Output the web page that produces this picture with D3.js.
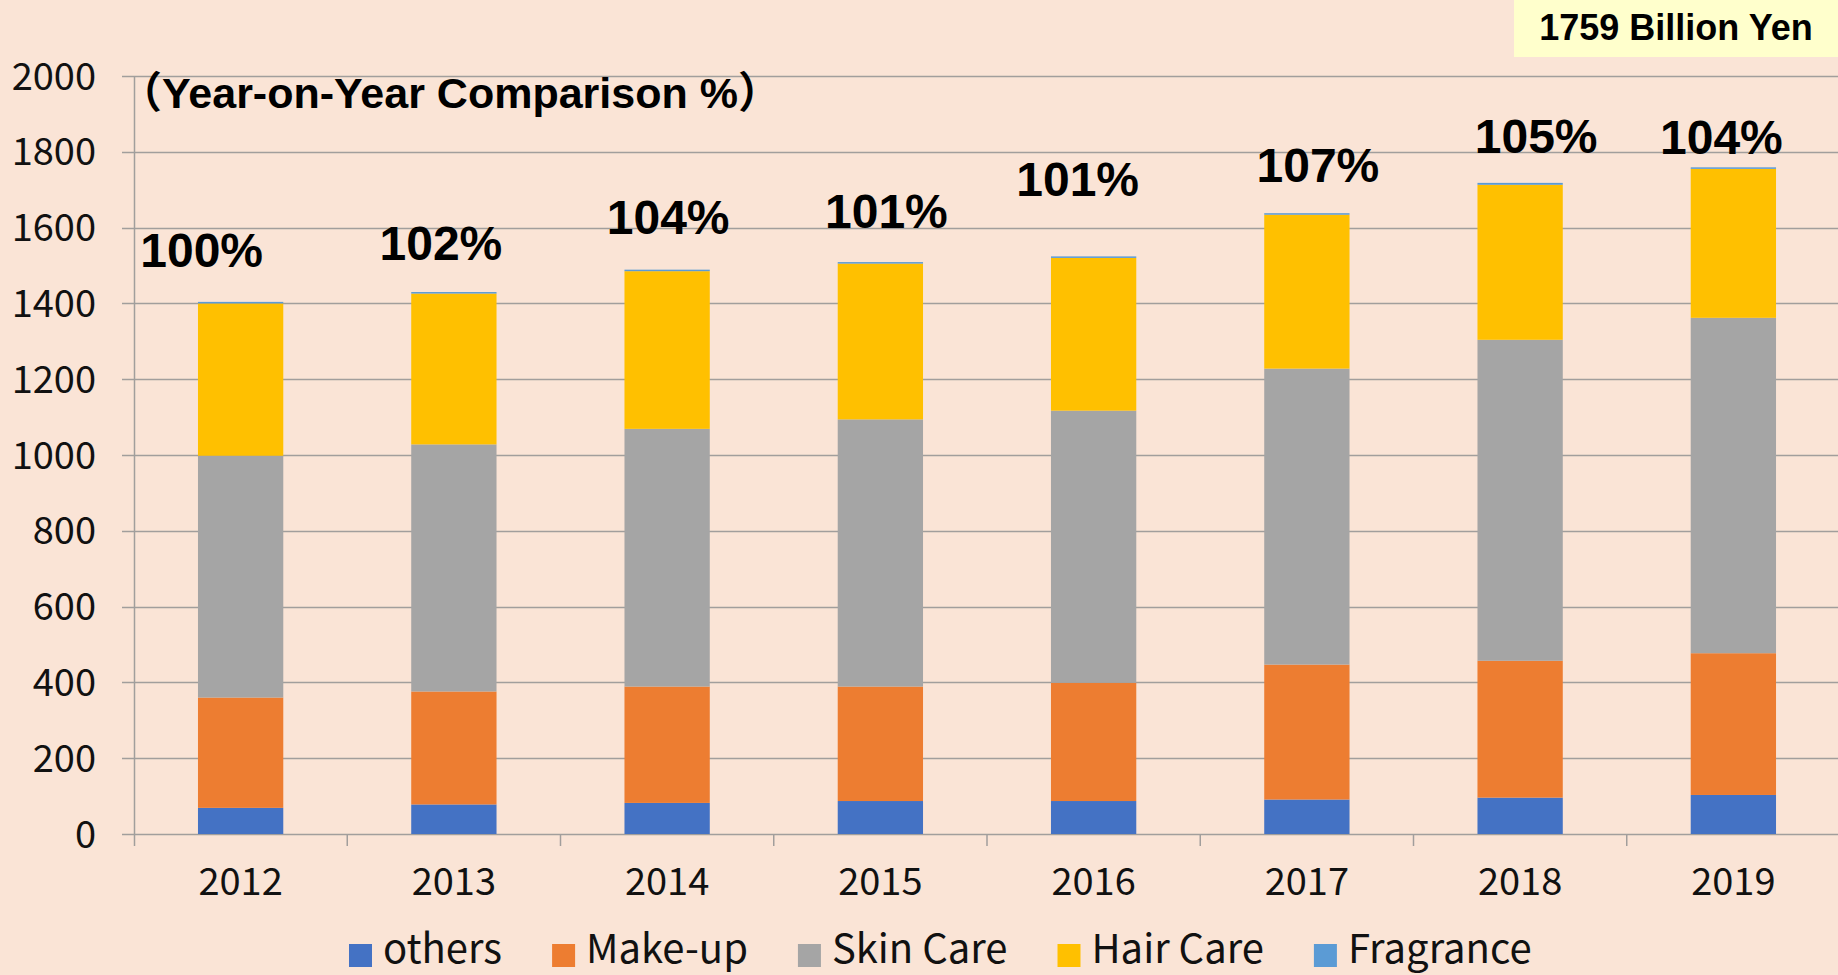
<!DOCTYPE html>
<html>
<head>
<meta charset="utf-8">
<script src="https://cdn.jsdelivr.net/npm/d3@7"></script>
<style>
  html, body { margin: 0; padding: 0; background: #fae4d6; }
  svg { display: block; }
</style>
</head>
<body>
<script>
// Datos (miles de millones de yenes)
const years = ['2012', '2013', '2014', '2015', '2016', '2017', '2018', '2019'];
const keys = ['others', 'Make-up', 'Skin Care', 'Hair Care', 'Fragrance'];

const others    = [69, 78, 82, 87, 87, 91, 96, 103];
const makeup    = [291, 298, 307, 302, 312, 356, 361, 374];
const skinCare  = [638, 652, 680, 705, 718, 781, 847, 885];
const hairCare  = [402, 398, 416, 411, 403, 406, 409, 393];
const fragrance = [4, 4, 4, 4, 4, 4, 5, 4];

const yoy = [100, 102, 104, 101, 101, 107, 105, 104];
const yTicks = [0, 200, 400, 600, 800, 1000, 1200, 1400, 1600, 1800, 2000];

// desplazamiento manual de las etiquetas de % (como cajas de texto en el original)
const labelDx = [-39, -13, 1, 6, -16, 11, 16, -12];
const labelDy = [-52, -49, -53, -51, -78, -48, -47, -31];

const WIDTH = 1838, HEIGHT = 975;
const colors = ['#4472c4', '#ed7d31', '#a5a5a5', '#ffc000', '#5b9bd5'];
const gridColor = '#a19e9c';
const axisFont = '"Noto Sans CJK JP", "Liberation Sans", sans-serif';
const boldFont = '"Liberation Sans", "Noto Sans CJK JP", Arial, sans-serif';

const data = years.map((y, i) => ({
    year: y,
    'others': others[i],
    'Make-up': makeup[i],
    'Skin Care': skinCare[i],
    'Hair Care': hairCare[i],
    'Fragrance': fragrance[i]
}));

const series = d3.stack().keys(keys)(data);

const svg = d3.select('body').append('svg')
    .attr('width', WIDTH)
    .attr('height', HEIGHT);

svg.append('rect')
    .attr('width', WIDTH).attr('height', HEIGHT)
    .attr('fill', '#fae4d6');

const x = d3.scaleBand()
    .domain(years)
    .range([134, 1840])
    .paddingInner(0.6)
    .paddingOuter(0.3);

const y = d3.scaleLinear()
    .domain([0, 2000])
    .range([834, 76]);

const colorScale = d3.scaleOrdinal().domain(keys).range(colors);

// lineas de grilla
svg.append('g')
    .selectAll('line')
    .data(yTicks)
    .enter().append('line')
        .attr('x1', 122)
        .attr('x2', WIDTH)
        .attr('y1', d => Math.round(y(d)) + 0.5)
        .attr('y2', d => Math.round(y(d)) + 0.5)
        .attr('stroke', gridColor)
        .attr('stroke-width', 1.5);

// eje vertical
svg.append('line')
    .attr('x1', 134.5).attr('x2', 134.5)
    .attr('y1', y(2000)).attr('y2', y(0) + 12)
    .attr('stroke', gridColor)
    .attr('stroke-width', 1.5);

// marcas del eje x en los limites de cada categoria
const step = x.step();
svg.append('g')
    .selectAll('line')
    .data(years.slice(1))
    .enter().append('line')
        .attr('x1', d => x(d) - (step - x.bandwidth()) / 2)
        .attr('x2', d => x(d) - (step - x.bandwidth()) / 2)
        .attr('y1', y(0))
        .attr('y2', y(0) + 12)
        .attr('stroke', gridColor)
        .attr('stroke-width', 1.5);

// etiquetas del eje y
svg.append('g')
    .selectAll('text')
    .data(yTicks)
    .enter().append('text')
        .attr('x', 96)
        .attr('y', d => y(d))
        .attr('dy', '0.36em')
        .attr('text-anchor', 'end')
        .style('font', `38px ${axisFont}`)
        .attr('fill', '#111')
        .text(d => d);

// etiquetas del eje x
svg.append('g')
    .selectAll('text')
    .data(years)
    .enter().append('text')
        .attr('x', d => x(d) + x.bandwidth() / 2)
        .attr('y', 895)
        .attr('text-anchor', 'middle')
        .style('font', `38px ${axisFont}`)
        .attr('fill', '#111')
        .text(d => d);

// barras apiladas
svg.selectAll('.serie')
    .data(series)
    .enter().append('g')
        .attr('class', 'serie')
        .attr('fill', d => colorScale(d.key))
    .selectAll('rect')
        .data(d => d)
        .enter().append('rect')
            .attr('x', d => x(d.data.year))
            .attr('y', d => y(d[1]))
            .attr('height', d => y(d[0]) - y(d[1]))
            .attr('width', x.bandwidth());

// etiquetas de % interanual
const totals = data.map(d => keys.reduce((s, k) => s + d[k], 0));
svg.append('g')
    .selectAll('text')
    .data(yoy)
    .enter().append('text')
        .attr('x', (d, i) => x(years[i]) + x.bandwidth() / 2 + labelDx[i])
        .attr('y', (d, i) => y(totals[i]) + labelDy[i])
        .attr('dy', '0.36em')
        .attr('text-anchor', 'middle')
        .style('font', `bold 48px ${boldFont}`)
        .attr('fill', '#000')
        .text(d => d + '%');

// titulo
svg.append('text')
    .attr('x', 119)
    .attr('y', 108)
    .style('font', `bold 43px ${boldFont}`)
    .attr('fill', '#000')
    .text('（Year-on-Year Comparison %）');

// recuadro del total
svg.append('rect')
    .attr('x', 1514).attr('y', 0)
    .attr('width', WIDTH - 1514).attr('height', 57)
    .attr('fill', '#ffffcc');

svg.append('text')
    .attr('x', (1514 + WIDTH) / 2)
    .attr('y', 40)
    .attr('text-anchor', 'middle')
    .style('font', `bold 36px ${boldFont}`)
    .attr('fill', '#000')
    .text(d3.format('.0f')(totals[totals.length - 1]) + ' Billion Yen');

// leyenda
const legend = svg.append('g');
let lx = 349;
keys.forEach((k, i) => {
    legend.append('rect')
        .attr('x', lx).attr('y', 944)
        .attr('width', 23).attr('height', 23)
        .attr('fill', colorScale(k));
    const t = legend.append('text')
        .attr('x', lx + 34)
        .attr('y', 963)
        .style('font', `40px ${axisFont}`)
        .attr('fill', '#111')
        .text(k);
    lx += 34 + t.node().getComputedTextLength() + 50;
});
</script>
</body>
</html>
